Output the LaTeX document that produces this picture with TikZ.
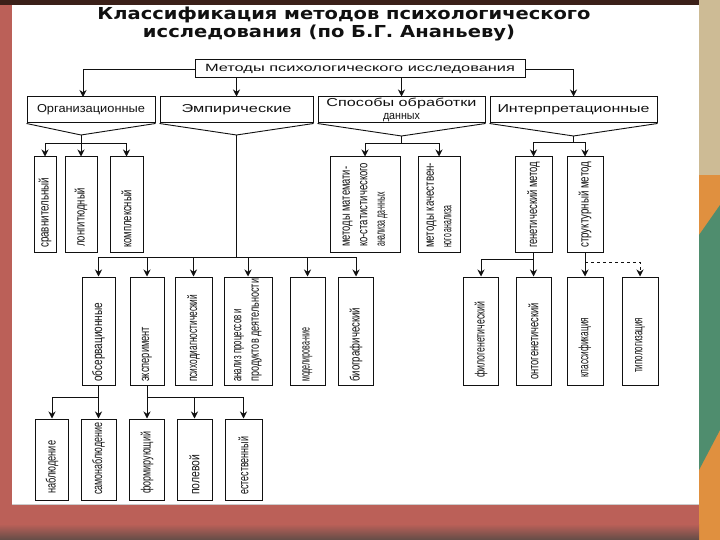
\documentclass[tikz,border=0pt]{standalone}
\usepackage{fontspec}
\setmainfont{Liberation Sans}
\newfontfamily\titlefont{DejaVu Sans}
\newfontfamily\lbfont{Liberation Sans}
\usetikzlibrary{arrows.meta}
\newcommand{\fitw}[2]{\resizebox{#1}{\height}{#2}}
\definecolor{bgred}{HTML}{BB6058}
\definecolor{topdark}{HTML}{3B2019}
\definecolor{beige}{HTML}{CDBB95}
\definecolor{orng}{HTML}{E0903F}
\definecolor{grn}{HTML}{4F8D6E}
\definecolor{ink}{HTML}{111111}
\tikzset{
  lvlone/.style={draw=ink, line width=1pt, fill=white, inner sep=0pt, minimum height=26pt, font=\lbfont\fontsize{11.5}{12.5}\selectfont, align=center, text=ink},
  lvltwo/.style={draw=ink, line width=1pt, inner sep=0pt, minimum height=95pt},
  lvlthree/.style={draw=ink, line width=1pt, inner sep=0pt, minimum height=108pt},
  lvlfour/.style={draw=ink, line width=1pt, inner sep=0pt, minimum height=81pt},
  vt/.style={rotate=90, anchor=west, inner sep=0pt, font=\lbfont\fontsize{13.5}{17.5}\selectfont, align=left, text=ink},
  arr/.style={-{Stealth[length=7pt,width=7pt]}, line width=0.9pt, draw=ink},
  ln/.style={line width=0.9pt, draw=ink},
}
\begin{document}
\begin{tikzpicture}[x=1pt,y=-1pt]
\useasboundingbox (0,0) rectangle (720,540);
% background
\fill[bgred] (0,0) rectangle (720,540);
\fill[topdark] (0,0) rectangle (720,5);
\fill[beige] (699,0) rectangle (720,175);
\fill[orng] (699,175) rectangle (720,540);
\fill[grn] (699,235) -- (720,205) -- (720,430) -- (699,470) -- cycle;
\shade[top color=bgred, bottom color=topdark!80] (0,524) rectangle (699,540);
\fill[white] (12,5) rectangle (699,504);
\draw[gray!40, line width=1pt] (12,504.5) -- (699,504.5);
% title
\node[font=\titlefont\bfseries\fontsize{16.5}{18}\selectfont, text=ink, inner sep=0pt] (title1) at (344,15) {\fitw{493pt}{Классификация методов психологического}};
\node[font=\titlefont\bfseries\fontsize{16.5}{18}\selectfont, text=ink, inner sep=0pt] (title2) at (329,33) {\fitw{372pt}{исследования (по Б.Г. Ананьеву)}};
% top box
\node[draw=ink, line width=1pt, minimum width=330pt, minimum height=18pt, inner sep=0pt, font=\lbfont\fontsize{10.5}{11}\selectfont, text=ink] (tb) at (360,69) {\fitw{310pt}{Методы психологического исследования}};
% level 1
\node[lvlone, minimum width=128pt] (org) at (91,110) {\fitw{108pt}{Организационные}};
\node[lvlone, minimum width=153pt] (emp) at (236.5,110) {\fitw{110pt}{Эмпирические}};
\node[lvlone, minimum width=167pt] (spos) at (401.5,110) {\fitw{150pt}{Способы обработки}\\\fitw{37pt}{данных}};
\node[lvlone, minimum width=167pt] (interp) at (573.5,110) {\fitw{152pt}{Интерпретационные}};
% level 2 boxes
\node[lvltwo, minimum width=22pt] (c1) at (45,204.5) {};
\node[lvltwo, minimum width=32pt] (c2) at (81,204.5) {};
\node[lvltwo, minimum width=33pt] (c3) at (126.5,204.5) {};
\node[lvltwo, minimum width=70pt] (m1) at (365,204.5) {};
\node[lvltwo, minimum width=42pt] (m2) at (439,204.5) {};
\node[lvltwo, minimum width=37pt] (g1) at (533.5,204.5) {};
\node[lvltwo, minimum width=36pt] (g2) at (585,204.5) {};
\node[vt] (c1t) at (45,248) {\fitw{70pt}{сравнительный}};
\node[vt] (c2t) at (81,247) {\fitw{59pt}{лонгитюдный}};
\node[vt] (c3t) at (126.5,248) {\fitw{58pt}{комплексный}};
\node[vt] (m1t) at (365,247) {\fitw{80pt}{методы математи-}\\\fitw{84pt}{ко-статистического}\\\fitw{55pt}{анализа да-нных}};
\node[vt] (m2t) at (439,248) {\fitw{85pt}{методы качествен-}\\\fitw{42pt}{ного анализа}};
\node[vt] (g1t) at (533.5,248) {\fitw{86pt}{генетический метод}};
\node[vt] (g2t) at (585,248) {\fitw{86pt}{структурный метод}};
% level 3 boxes
\node[lvlthree, minimum width=33pt] (e1) at (98.5,331) {};
\node[lvlthree, minimum width=34pt] (e2) at (147,331) {};
\node[lvlthree, minimum width=37pt] (e3) at (193.5,331) {};
\node[lvlthree, minimum width=48pt] (e4) at (248,331) {};
\node[lvlthree, minimum width=35pt] (e5) at (307.5,331) {};
\node[lvlthree, minimum width=35pt] (e6) at (356,331) {};
\node[lvlthree, minimum width=35pt] (f1) at (481,331) {};
\node[lvlthree, minimum width=35pt] (f2) at (533.5,331) {};
\node[lvlthree, minimum width=36pt] (f3) at (585,331) {};
\node[lvlthree, minimum width=36pt] (f4) at (640,331) {};
\node[vt] (e1t) at (98.5,382) {\fitw{79pt}{обсервационные}};
\node[vt] (e2t) at (147,382) {\fitw{55pt}{эксперимент}};
\node[vt] (e3t) at (193.5,382) {\fitw{87pt}{психодиагностический}};
\node[vt] (e4t) at (248,382) {\fitw{73pt}{анализ процессов и}\\\fitw{103pt}{продуктов деятельности}};
\node[vt] (e5t) at (307.5,382) {\fitw{54pt}{моделирова-ние}};
\node[vt] (e6t) at (356,382) {\fitw{74pt}{биографический}};
\node[vt] (f1t) at (481,378) {\fitw{76pt}{филогенетический}};
\node[vt] (f2t) at (533.5,380) {\fitw{77pt}{онтогенетический}};
\node[vt] (f3t) at (585,378) {\fitw{60pt}{классификация}};
\node[vt] (f4t) at (640,373) {\fitw{55pt}{типологизация}};
% level 4 boxes
\node[lvlfour, minimum width=33pt] (b1) at (52,459.5) {};
\node[lvlfour, minimum width=35pt] (b2) at (98.5,459.5) {};
\node[lvlfour, minimum width=35pt] (b3) at (147,459.5) {};
\node[lvlfour, minimum width=35pt] (b4) at (194.5,459.5) {};
\node[lvlfour, minimum width=37pt] (b5) at (243.5,459.5) {};
\node[vt] (b1t) at (52,494) {\fitw{53pt}{наблюдение}};
\node[vt] (b2t) at (98.5,495) {\fitw{72pt}{самонаблюдение}};
\node[vt] (b3t) at (147,494) {\fitw{62pt}{формирующий}};
\node[vt] (b4t) at (194.5,495) {\fitw{40pt}{полевой}};
\node[vt] (b5t) at (243.5,495) {\fitw{58pt}{естественный}};
% connectors from top box
\coordinate (orgin) at (83,97);
\draw[arr] (tb.west) -| (orgin);
\draw[arr] (tb.east) -| (interp.north);
\draw[arr] (tb.south -| emp.north) -- (emp.north);
\draw[arr] (tb.south -| spos.north) -- (spos.north);
% chevrons
\coordinate (orgtip) at (81,135);
\coordinate (emptip) at (236.5,135);
\coordinate (spostip) at (401.5,136);
\coordinate (inttip) at (573.5,136);
\draw[ln] (org.south west) -- (orgtip) -- (org.south east);
\draw[ln] (emp.south west) -- (emptip) -- (emp.south east);
\draw[ln] (spos.south west) -- (spostip) -- (spos.south east);
\draw[ln] (interp.south west) -- (inttip) -- (interp.south east);
% organisational
\coordinate (orgbus) at (81,143);
\draw[ln] (orgtip) -- (orgbus);
\draw[arr] (orgbus) -| (c1.north);
\draw[arr] (orgbus) -| (c3.north);
\draw[arr] (orgbus) -- (c2.north);
% processing
\coordinate (sposbus) at (401.5,143);
\draw[ln] (spostip) -- (sposbus);
\draw[arr] (sposbus) -| (m1.north);
\draw[arr] (sposbus) -| (m2.north);
% interpretation
\coordinate (intbus) at (573.5,142);
\draw[ln] (inttip) -- (intbus);
\draw[arr] (intbus) -| (g1.north);
\draw[arr] (intbus) -| (g2.north);
\coordinate (g1bus) at (533.5,259);
\draw[ln] (g1.south) -- (g1bus);
\draw[arr] (g1bus) -| (f1.north);
\draw[arr] (g1bus) -- (f2.north);
\coordinate (g2bus) at (585,262);
\draw[arr] (g2.south) -- (f3.north);
\draw[arr, dashed] (g2bus) -| (f4.north);
% empirical
\coordinate (empbus) at (236.5,257);
\draw[ln] (emptip) -- (empbus);
\foreach \n in {e1,e2,e3,e4,e5,e6} { \draw[arr] (empbus) -| (\n.north); }
% bottom level
\coordinate (e1bus) at (98.5,397);
\draw[ln] (e1.south) -- (e1bus);
\draw[arr] (e1bus) -| (b1.north);
\draw[arr] (e1bus) -- (b2.north);
\coordinate (e2bus) at (147,397);
\draw[ln] (e2.south) -- (e2bus);
\draw[arr] (e2bus) -- (b3.north);
\draw[arr] (e2bus) -| (b4.north);
\draw[arr] (e2bus) -| (b5.north);
\end{tikzpicture}
\end{document}
